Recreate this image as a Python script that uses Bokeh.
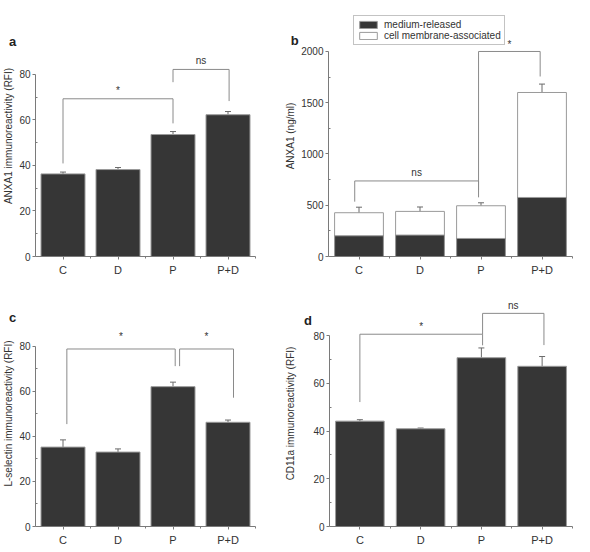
from bokeh.plotting import figure
from bokeh.models import (Range1d, FixedTicker, Whisker, TeeHead, Label, Legend,
                          LegendItem, ColumnDataSource)
from bokeh.layouts import column, row
from bokeh.embed import file_html
from bokeh.resources import INLINE
from bokeh.core.properties import value

# ---------------- data ----------------
categories = ["C", "D", "P", "P+D"]

# a: ANXA1 immunoreactivity (RFI)
anxa1_rfi = [36.3, 38.2, 53.6, 62.3]
anxa1_rfi_err = [0.8, 0.9, 1.3, 1.4]

# b: ANXA1 (ng/ml), stacked
anxa1_medium = [202, 209, 176, 576]
anxa1_medium_err = [27, 20, 33, 53]
anxa1_total = [427, 440, 495, 1600]
anxa1_total_err = [54, 43, 29, 82]

# c: L-selectin immunoreactivity (RFI)
lselectin_rfi = [35.2, 33.0, 62.0, 46.2]
lselectin_rfi_err = [3.2, 1.4, 2.0, 1.0]

# d: CD11a immunoreactivity (RFI)
cd11a_rfi = [44.2, 41.0, 70.8, 67.2]
cd11a_rfi_err = [0.6, 0.3, 4.1, 4.1]

# significance brackets: (x left, x right, level, left leg end, right leg end, text, text y)
a_brackets = [(0.5, 2.5, 69.3, 40.9, 58.5, "*", 73.0),
              (2.5, 3.52, 82.2, 76.6, 68.3, "ns", 86.3)]
b_brackets = [(0.43, 2.46, 737, 535, 577, "ns", 820),
              (2.46, 3.47, 2000, 649, 1756, "*", 2070)]
c_brackets = [(0.57, 2.54, 78.7, 45.4, 71.1, "*", 84.2),
              (2.62, 3.6, 78.7, 71.1, 57.1, "*", 84.2)]
d_brackets = [(0.5, 2.52, 80.65, 52.2, 76.0, "*", 83.8),
              (2.52, 3.53, 89.4, 80.65, 76.1, "ns", 92.7)]

rfi_ticks = [0, 20, 40, 60, 80]
rfi_minor = [10, 30, 50, 70]
ng_ticks = [0, 500, 1000, 1500, 2000]
ng_minor = [250, 750, 1250, 1750]

# ---------------- style ----------------
FONT = "Liberation Sans"
DARK = "#363636"
EDGE = "#9a9a9a"
AXIS = "#7a7a7a"
TXT = "#333333"
BRK = "#8a8a8a"
ERR = "#6a6a6a"

x_pos = [i + 0.5 for i in range(len(categories))]


def make_fig(width, height, y_end, left, right, top, bottom):
    p = figure(width=width, height=height, x_range=Range1d(0, len(categories)),
               y_range=Range1d(0, y_end), output_backend="svg",
               toolbar_location=None, tools="", title_location=None,
               min_border_left=left, min_border_right=right,
               min_border_top=top, min_border_bottom=bottom)
    p.outline_line_color = None
    p.grid.visible = False
    p.background_fill_color = "white"
    p.border_fill_color = "white"
    return p


def style_axes(p, yticks, yminor, ylabel, label_standoff):
    xa = p.xaxis[0]
    xa.ticker = FixedTicker(ticks=x_pos, minor_ticks=[1, 2, 3, 4])
    xa.major_label_overrides = {x: c for x, c in zip(x_pos, categories)}
    xa.major_label_text_font = FONT
    xa.major_label_text_font_size = "11px"
    xa.major_label_text_color = TXT
    xa.major_label_standoff = 4
    xa.major_tick_out = 3
    xa.major_tick_in = 0
    xa.minor_tick_out = 2
    xa.minor_tick_in = 0

    ya = p.yaxis[0]
    ya.ticker = FixedTicker(ticks=yticks, minor_ticks=yminor)
    ya.bounds = (yticks[0], yticks[-1])
    ya.major_label_text_font = FONT
    ya.major_label_text_font_size = "10px"
    ya.major_label_text_color = TXT
    ya.major_label_standoff = 2
    ya.major_tick_out = 3
    ya.major_tick_in = 0
    ya.minor_tick_out = 0
    ya.minor_tick_in = 2
    ya.axis_label = ylabel
    ya.axis_label_text_font = FONT
    ya.axis_label_text_font_size = "10px"
    ya.axis_label_text_font_style = "normal"
    ya.axis_label_text_color = TXT
    ya.axis_label_standoff = label_standoff

    for ax in (xa, ya):
        ax.axis_line_color = AXIS
        ax.major_tick_line_color = AXIS
        ax.minor_tick_line_color = AXIS


def add_errors(p, tops, errs, both=False):
    src = ColumnDataSource(dict(
        x=x_pos,
        lower=[t - e if both else t for t, e in zip(tops, errs)],
        upper=[t + e for t, e in zip(tops, errs)]))
    w = Whisker(base="x", lower="lower", upper="upper", source=src,
                line_color=ERR, line_width=1,
                upper_head=TeeHead(size=6, line_color=ERR, line_width=1),
                lower_head=TeeHead(size=6, line_color=ERR, line_width=1) if both else None)
    p.add_layout(w)


def add_brackets(p, brackets):
    xs, ys, tx, ty, tt = [], [], [], [], []
    for xl, xr, lev, yl, yr, t, t_y in brackets:
        xs.append([xl, xl, xr, xr])
        ys.append([yl, lev, lev, yr])
        tx.append((xl + xr) / 2)
        ty.append(t_y)
        tt.append(t)
    p.multi_line(xs=xs, ys=ys, line_color=BRK, line_width=1)
    p.text(x=tx, y=ty, text=tt, text_align="center", text_baseline="middle",
           text_font=value(FONT), text_font_size="10px", text_color=TXT)


def add_panel_label(p, letter, x, y):
    p.add_layout(Label(x=x, y=y, text=letter, text_font=FONT, text_font_size="13px",
                       text_font_style="bold", text_color="#222222",
                       text_align="left", text_baseline="middle"), "above")


def simple_panel(vals, errs, brackets, ylabel, letter, lab_xy, width, height,
                 y_end, left, right, top, bottom, standoff):
    p = make_fig(width, height, y_end, left, right, top, bottom)
    p.vbar(x=x_pos, top=vals, bottom=0, width=0.8, fill_color=DARK, line_color=EDGE,
           line_width=1)
    add_errors(p, vals, errs)
    add_brackets(p, brackets)
    style_axes(p, rfi_ticks, rfi_minor, ylabel, standoff)
    add_panel_label(p, letter, lab_xy[0], lab_xy[1])
    return p


# Layout: frames in a row share top/bottom, frames in a column share left/right.
# Row 1: frame from y=15 to y=256 (241 px); row 2: from 300 to 528 (228 px).

# ---------------- panel a ----------------
pa = simple_panel(anxa1_rfi, anxa1_rfi_err, a_brackets,
                  "ANXA1 immunoreactivity (RFI)", "a", (-0.48, 94.5),
                  282, 282, 105.9, 29, 27, 15, 26, 2)

# ---------------- panel b ----------------
pb = make_fig(292, 282, 2351, 42, 2, 15, 26)
r_white = pb.vbar(x=x_pos, top=anxa1_total, bottom=0, width=0.8, fill_color="white",
                  line_color=EDGE, line_width=1)
r_dark = pb.vbar(x=x_pos, top=anxa1_medium, bottom=0, width=0.8, fill_color=DARK,
                 line_color=EDGE, line_width=1)
add_errors(pb, anxa1_total, anxa1_total_err, both=True)
add_errors(pb, anxa1_medium, anxa1_medium_err)
add_brackets(pb, b_brackets)
style_axes(pb, ng_ticks, ng_minor, "ANXA1 (ng/ml)", 2)
add_panel_label(pb, "b", -0.62, 2107)
legend = Legend(items=[LegendItem(label="medium-released", renderers=[r_dark]),
                       LegendItem(label="cell membrane-associated", renderers=[r_white])],
                location=(25, 211), orientation="vertical",
                border_line_color="#888888", border_line_width=1,
                background_fill_color="white", background_fill_alpha=1,
                label_text_font=FONT, label_text_font_size="10px",
                label_text_color=TXT, glyph_width=22, glyph_height=9,
                label_height=10, label_standoff=5, padding=3, spacing=0, margin=0)
pb.add_layout(legend)

# ---------------- panel c ----------------
pc = simple_panel(lselectin_rfi, lselectin_rfi_err, c_brackets,
                  "L-selectin immunoreactivity (RFI)", "c", (-0.48, 92.5),
                  282, 266, 100.2, 29, 27, 18, 20, 2)

# ---------------- panel d ----------------
pd_ = simple_panel(cd11a_rfi, cd11a_rfi_err, d_brackets,
                   "CD11a immunoreactivity (RFI)", "d", (-0.42, 86.5),
                   292, 266, 94.8, 42, 2, 18, 20, 14)

layout = column(row(pa, pb), row(pc, pd_))

open("out.html", "w").write(file_html(layout, INLINE))
